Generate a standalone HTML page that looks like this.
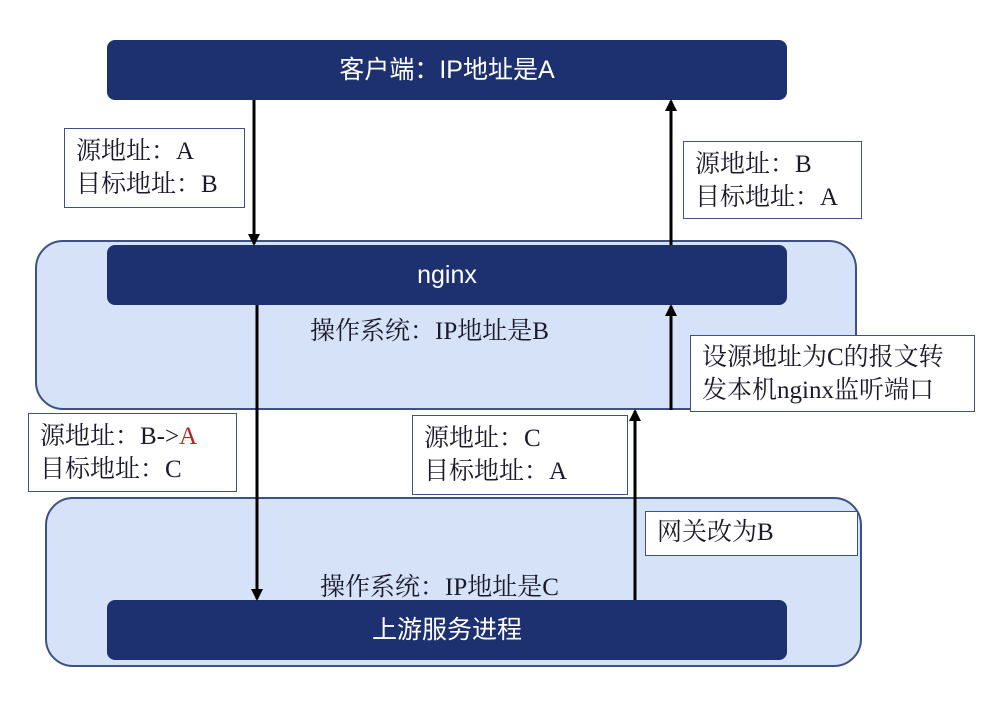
<!DOCTYPE html>
<html><head><meta charset="utf-8"><style>
body{margin:0;width:1003px;height:703px;background:#fff;position:relative;overflow:hidden;font-family:"Liberation Serif","Noto Serif CJK SC","Noto Sans CJK SC",serif;}
.a{position:absolute;box-sizing:border-box;}
.bar{background:#1d3170;border-radius:8px;color:#fff;font-family:"Liberation Sans","Noto Sans CJK SC",sans-serif;font-size:25px;text-align:center;line-height:60px;}
.cont{background:#d6e2f8;border:2px solid #3e5186;border-radius:28px;}
.box{background:#fff;border:1.5px solid #3e5186;font-size:25px;line-height:33px;color:#1a1a2a;padding:6px 11px;white-space:nowrap;}
.t{position:absolute;font-size:25px;color:#1a1a2a;white-space:nowrap;}
</style></head><body>
<div class="a cont" style="left:35px;top:240px;width:822px;height:170px"></div>
<div class="a cont" style="left:45px;top:497px;width:817px;height:170px"></div>
<div class="a bar" style="left:107px;top:40px;width:680px;height:60px">客户端：IP地址是A</div>
<div class="a bar" style="left:107px;top:245px;width:680px;height:60px">nginx</div>
<div class="a bar" style="left:107px;top:600px;width:680px;height:60px">上游服务进程</div>
<div class="t" style="left:310px;top:311px">操作系统：IP地址是B</div>
<div class="t" style="left:320px;top:567px">操作系统：IP地址是C</div>
<div class="a box" style="left:64px;top:128px;width:181px;height:80px">源地址：A<br>目标地址：B</div>
<div class="a box" style="left:683px;top:141px;width:179px;height:78px">源地址：B<br>目标地址：A</div>
<div class="a box" style="left:690px;top:335px;width:285px;height:77px;padding-top:5px">设源地址为C的报文转<br>发本机nginx监听端口</div>
<div class="a box" style="left:28px;top:413px;width:209px;height:79px">源地址：B-&gt;<span style="color:#c0201a">A</span><br>目标地址：C</div>
<div class="a box" style="left:412px;top:415px;width:216px;height:80px">源地址：C<br>目标地址：A</div>
<div class="a box" style="left:645px;top:511px;width:213px;height:45px;padding-top:4px">网关改为B</div>
<svg class="a" style="left:0;top:0" width="1003" height="703">
<defs><marker id="m" markerWidth="12" markerHeight="12" refX="10" refY="6" orient="auto" markerUnits="userSpaceOnUse"><path d="M0,0 L12,6 L0,12z" fill="#000"/></marker></defs>
<g stroke="#000" stroke-width="3">
<line x1="254" y1="100" x2="254" y2="244" marker-end="url(#m)"/>
<line x1="671" y1="245" x2="671" y2="101" marker-end="url(#m)"/>
<line x1="257" y1="305" x2="257" y2="599" marker-end="url(#m)"/>
<line x1="671" y1="410" x2="671" y2="306" marker-end="url(#m)"/>
<line x1="635" y1="600" x2="635" y2="411" marker-end="url(#m)"/>
</g></svg>
</body></html>
